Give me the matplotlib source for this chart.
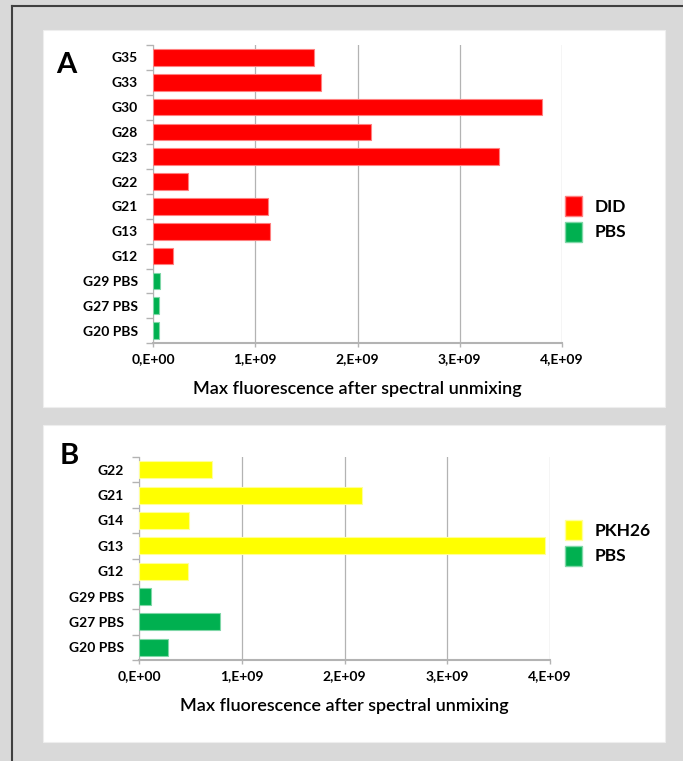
# two bar panels: fluorescence of dye-labelled samples vs PBS
import matplotlib
matplotlib.use('Agg')
import matplotlib.pyplot as plt
from matplotlib.patches import Rectangle, Patch
from matplotlib.lines import Line2D
import numpy as np

a_labels = ['G35', 'G33', 'G30', 'G28', 'G23', 'G22', 'G21', 'G13', 'G12',
            'G29 PBS', 'G27 PBS', 'G20 PBS']
a_values = [1.57e9, 1.64e9, 3.80e9, 2.13e9, 3.38e9, 0.345e9, 1.12e9, 1.14e9,
            0.20e9, 0.068e9, 0.06e9, 0.06e9]

b_labels = ['G22', 'G21', 'G14', 'G13', 'G12', 'G29 PBS', 'G27 PBS', 'G20 PBS']
b_values = [0.71e9, 2.17e9, 0.49e9, 3.95e9, 0.48e9, 0.12e9, 0.79e9, 0.28e9]

xticks = [0, 1e9, 2e9, 3e9, 4e9]
xtick_labels = ['0,E+00', '1,E+09', '2,E+09', '3,E+09', '4,E+09']
xlabel = 'Max fluorescence after spectral unmixing'

RED, GREEN, YELLOW = '#ff0000', '#00b050', '#ffff00'
EDGE = {RED: '#ff7f7f', GREEN: '#7fd7a7', YELLOW: '#ffff99'}
GRID = '#b3b3b3'

plt.rcParams['font.family'] = ['Lato', 'DejaVu Sans']

W, H = 683, 761
fig = plt.figure(figsize=(W / 100, H / 100), dpi=100)
fig.patch.set_facecolor('#d9d9d9')


def px(x0, y0, x1, y1):
    # pixel box (top-left origin) -> figure fraction rect
    return [x0 / W, 1 - y1 / H, (x1 - x0) / W, (y1 - y0) / H]


# frame lines (left and top only, rest is cropped)
fig.add_artist(Line2D([12 / W, 12 / W], [0, 1 - 6 / H], color='#404040', lw=1.5,
                      transform=fig.transFigure))
fig.add_artist(Line2D([12 / W, 1], [1 - 6 / H, 1 - 6 / H], color='#404040', lw=1.5,
                      transform=fig.transFigure))

# white panels
for box in [px(43, 30, 665, 407), px(43, 425, 665, 742)]:
    fig.add_artist(Rectangle((box[0], box[1]), box[2], box[3], facecolor='white',
                             edgecolor='#eeeeee', lw=0.8, transform=fig.transFigure,
                             zorder=0))


def panel(rect, labels, values, dye_color, dye_name, letter, letter_xy, leg_xy):
    ax = fig.add_axes(rect)
    ax.set_facecolor('none')
    y = np.arange(len(labels))
    colors = [GREEN if 'PBS' in l else dye_color for l in labels]
    ax.barh(y, values, height=0.67, color=colors,
            edgecolor=[EDGE[c] for c in colors], linewidth=0.8, zorder=3)
    ax.set_ylim(len(labels) - 0.5, -0.5)
    ax.set_xlim(0, 4e9)
    ax.set_yticks(y)
    ax.set_yticklabels(labels, fontsize=10, fontweight='bold')
    ax.set_yticks(np.arange(len(labels) + 1) - 0.5, minor=True)
    ax.tick_params(axis='y', which='major', length=0, pad=11)
    ax.tick_params(axis='y', which='minor', length=5, color=GRID, width=1)
    ax.set_xticks(xticks)
    ax.set_xticklabels(xtick_labels, fontsize=10, fontweight='bold')
    ax.tick_params(axis='x', length=3, color=GRID, width=1, pad=4)
    ax.grid(axis='x', color=GRID, lw=0.9, zorder=0)
    for s in ['top', 'right']:
        ax.spines[s].set_visible(False)
    ax.spines['left'].set_color(GRID)
    ax.spines['bottom'].set_color(GRID)
    ax.spines['bottom'].set_linewidth(1.5)
    ax.set_xlabel(xlabel, fontsize=13, labelpad=12, fontweight='semibold')
    fig.text(letter_xy[0] / W, 1 - letter_xy[1] / H, letter, fontsize=21,
             fontweight='bold', ha='center', va='center')
    handles = [Patch(facecolor=dye_color, edgecolor=EDGE[dye_color], label=dye_name),
               Patch(facecolor=GREEN, edgecolor=EDGE[GREEN], label='PBS')]
    fig.legend(handles=handles, loc='center left',
               bbox_to_anchor=(leg_xy[0] / W, 1 - leg_xy[1] / H),
               frameon=False, handlelength=1.0, handleheight=1.4,
               handletextpad=0.7, labelspacing=0.3, borderaxespad=0,
               prop={'size': 12.5, 'weight': 'bold'})
    return ax


panel(px(153, 45, 562, 343), a_labels, a_values, RED, 'DID', 'A', (66, 65), (558, 219))
panel(px(139, 457, 550, 660), b_labels, b_values, YELLOW, 'PKH26', 'B', (69, 456), (558, 543))

fig.savefig('out.png', dpi=100, facecolor=fig.get_facecolor())
